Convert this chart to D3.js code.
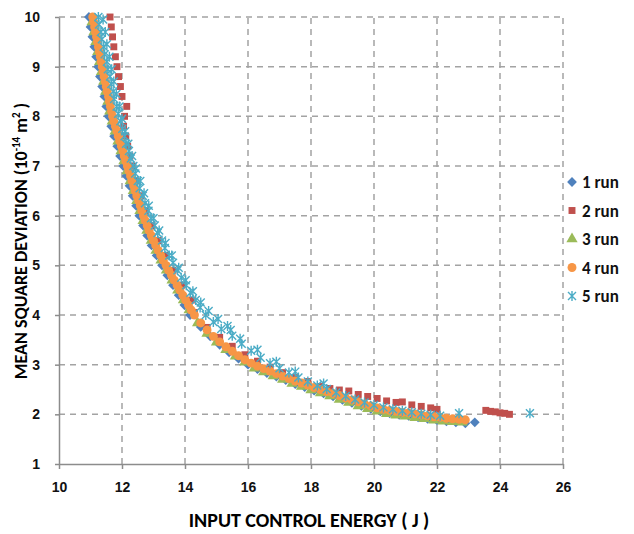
<!DOCTYPE html>
<html>
<head>
<meta charset="utf-8">
<script src="https://cdn.jsdelivr.net/npm/d3@7"></script>
<style>
  html, body { margin: 0; padding: 0; background: #fff; }
  svg { display: block; font-family: Carlito, Lato, "Open Sans", sans-serif; }
  .grid line { stroke: #a3a3a3; stroke-width: 1.5; stroke-dasharray: 6,5; }
  .axis path, .axis line { stroke: #8c8c8c; stroke-width: 1.5; }
  .axis text { font-size: 14px; font-weight: 700; fill: #111; }
</style>
</head>
<body>
<div id="chart"></div>
<script>
/* Mean square deviation vs input control energy, five runs. */

const xTicks = [10, 12, 14, 16, 18, 20, 22, 24, 26];
const yTicks = [1, 2, 3, 4, 5, 6, 7, 8, 9, 10];
const runLabels = ["1 run", "2 run", "3 run", "4 run", "5 run"];

// [energy J, MSD 1e-14 m^2]
const run1 = [
  [10.95, 10], [11.0, 9.8], [11.06, 9.6], [11.12, 9.4], [11.18, 9.2], [11.24, 9.0],
  [11.30, 8.8], [11.37, 8.6], [11.44, 8.4], [11.50, 8.2], [11.57, 8.0], [11.66, 7.8],
  [11.75, 7.6], [11.85, 7.4], [11.94, 7.2], [12.04, 7.0], [12.14, 6.8], [12.24, 6.6],
  [12.34, 6.4], [12.45, 6.2], [12.55, 6.0], [12.67, 5.8], [12.80, 5.6], [12.94, 5.4],
  [13.10, 5.2], [13.27, 5.0], [13.44, 4.8], [13.62, 4.6], [13.80, 4.4], [13.98, 4.2],
  [14.16, 4.0], [14.5, 3.76], [14.8, 3.57], [15.1, 3.40], [15.4, 3.25], [15.7, 3.12],
  [16.0, 3.0], [16.3, 2.91], [16.6, 2.83], [16.9, 2.76], [17.2, 2.69], [17.5, 2.61],
  [17.8, 2.55], [18.1, 2.48], [18.4, 2.42], [18.7, 2.36], [19.0, 2.29], [19.3, 2.23],
  [19.6, 2.17], [19.9, 2.11], [20.2, 2.06], [20.5, 2.02], [20.8, 1.99], [21.1, 1.97],
  [21.4, 1.94], [21.7, 1.91], [22.0, 1.88], [22.3, 1.86], [22.6, 1.84], [22.9, 1.82],
  [23.2, 1.84]
];
const run2 = [
  [11.62, 10], [11.66, 9.8], [11.70, 9.6], [11.74, 9.4], [11.79, 9.2], [11.84, 9.0],
  [11.89, 8.8], [11.95, 8.6], [12.00, 8.4], [12.15, 8.2], [12.08, 8.0], [12.05, 7.8],
  [12.12, 7.6], [12.18, 7.4], [12.25, 7.2], [12.32, 7.0], [12.45, 6.7], [12.60, 6.4],
  [12.76, 6.1], [12.95, 5.8], [13.15, 5.5], [13.38, 5.2], [13.62, 4.9], [13.90, 4.6],
  [14.20, 4.3], [14.30, 4.05], [14.7, 3.75], [15.1, 3.55], [15.5, 3.37], [15.9, 3.2],
  [16.3, 3.07], [16.7, 2.95], [17.1, 2.84], [17.5, 2.74], [17.9, 2.66], [18.3, 2.56],
  [18.6, 2.52], [18.9, 2.49], [19.2, 2.47], [19.5, 2.40], [19.8, 2.36], [20.1, 2.32],
  [20.4, 2.27], [20.7, 2.24], [20.9, 2.25], [21.2, 2.19], [21.5, 2.16], [21.8, 2.13],
  [22.0, 2.10], [23.55, 2.08], [23.7, 2.06], [23.85, 2.05], [24.0, 2.03], [24.15, 2.02],
  [24.3, 2.0]
];
const run3 = [
  [11.05, 9.9], [11.11, 9.7], [11.17, 9.5], [11.23, 9.3], [11.29, 9.1], [11.35, 8.9],
  [11.42, 8.7], [11.48, 8.5], [11.55, 8.3], [11.61, 8.1], [11.69, 7.9], [11.78, 7.7],
  [11.87, 7.5], [11.97, 7.3], [12.06, 7.1], [12.16, 6.9], [12.26, 6.7], [12.36, 6.5],
  [12.47, 6.3], [12.57, 6.1], [12.67, 5.9], [12.79, 5.7], [12.93, 5.5], [13.08, 5.3],
  [13.24, 5.1], [13.41, 4.9], [13.59, 4.7], [13.77, 4.5], [13.95, 4.3], [14.13, 4.1],
  [14.4, 3.84], [14.7, 3.63], [15.0, 3.45], [15.3, 3.30], [15.6, 3.17], [15.9, 3.05],
  [16.2, 2.93], [16.5, 2.85], [16.8, 2.77], [17.1, 2.70], [17.4, 2.62], [17.7, 2.56],
  [18.0, 2.49], [18.3, 2.43], [18.6, 2.37], [18.9, 2.30], [19.2, 2.24], [19.5, 2.17],
  [19.8, 2.11], [20.1, 2.06], [20.4, 2.01], [20.7, 1.98], [21.0, 1.96], [21.3, 1.93],
  [21.6, 1.91], [21.9, 1.88], [22.2, 1.86], [22.5, 1.85], [22.8, 1.84]
];
const run4 = [
  [11.07, 10], [11.10, 9.9], [11.13, 9.8], [11.16, 9.7], [11.19, 9.6], [11.22, 9.5],
  [11.25, 9.4], [11.28, 9.3], [11.31, 9.2], [11.34, 9.1], [11.37, 9.0], [11.40, 8.9],
  [11.43, 8.8], [11.47, 8.7], [11.50, 8.6], [11.53, 8.5], [11.57, 8.4], [11.60, 8.3],
  [11.63, 8.2], [11.67, 8.1], [11.70, 8.0], [11.74, 7.9], [11.79, 7.8], [11.84, 7.7],
  [11.88, 7.6], [11.93, 7.5], [11.98, 7.4], [12.03, 7.3], [12.07, 7.2], [12.12, 7.1],
  [12.17, 7.0], [12.22, 6.9], [12.27, 6.8], [12.32, 6.7], [12.37, 6.6], [12.42, 6.5],
  [12.47, 6.4], [12.53, 6.3], [12.58, 6.2], [12.63, 6.1], [12.68, 6.0], [12.74, 5.9],
  [12.80, 5.8], [12.86, 5.7], [12.93, 5.6], [13.00, 5.5], [13.07, 5.4], [13.15, 5.3],
  [13.23, 5.2], [13.31, 5.1], [13.40, 5.0], [13.48, 4.9], [13.57, 4.8], [13.66, 4.7],
  [13.75, 4.6], [13.84, 4.5], [13.93, 4.4], [14.02, 4.3], [14.11, 4.2], [14.20, 4.1],
  [14.30, 4.0], [14.5, 3.84], [14.7, 3.70], [14.9, 3.57], [15.1, 3.46], [15.3, 3.36],
  [15.5, 3.27], [15.7, 3.18], [15.9, 3.10], [16.1, 3.03], [16.3, 2.97], [16.5, 2.92],
  [16.7, 2.87], [16.9, 2.82], [17.1, 2.77], [17.3, 2.72], [17.5, 2.67], [17.7, 2.63],
  [17.9, 2.59], [18.1, 2.54], [18.3, 2.50], [18.5, 2.46], [18.7, 2.42], [18.9, 2.38],
  [19.1, 2.33], [19.3, 2.29], [19.5, 2.25], [19.7, 2.21], [19.9, 2.17], [20.1, 2.13],
  [20.3, 2.10], [20.5, 2.08], [20.7, 2.06], [20.9, 2.04], [21.1, 2.03], [21.3, 2.01],
  [21.5, 1.99], [21.7, 1.97], [21.9, 1.95], [22.1, 1.94], [22.3, 1.92], [22.5, 1.91],
  [22.7, 1.90], [22.9, 1.89]
];
const run5 = [
  [11.25, 10], [11.27, 9.85], [11.33, 9.7], [11.36, 9.55], [11.42, 9.4], [11.45, 9.25],
  [11.52, 9.1], [11.55, 8.95], [11.62, 8.8], [11.66, 8.65], [11.72, 8.5], [11.75, 8.35],
  [11.83, 8.2], [11.88, 8.05], [11.95, 7.9], [12.01, 7.75], [12.08, 7.6], [12.13, 7.45],
  [12.22, 7.3], [12.28, 7.15], [12.36, 7.0], [12.42, 6.85], [12.50, 6.7], [12.56, 6.55],
  [12.66, 6.4], [12.73, 6.25], [12.84, 6.1], [12.92, 5.95], [13.04, 5.8], [13.13, 5.65],
  [13.27, 5.5], [13.36, 5.35], [13.50, 5.2], [13.62, 5.05], [13.76, 4.9], [13.88, 4.75],
  [14.04, 4.6], [14.17, 4.45], [14.34, 4.3], [14.48, 4.15], [14.66, 4.0], [14.9, 3.86],
  [15.15, 3.72], [15.35, 3.78], [15.5, 3.58], [15.8, 3.42], [16.1, 3.28], [16.4, 3.14],
  [16.7, 3.03], [17.0, 2.93], [17.3, 2.84], [17.6, 2.74], [17.9, 2.66], [18.2, 2.58],
  [18.5, 2.51], [18.8, 2.44], [19.1, 2.37], [19.4, 2.30], [19.7, 2.24], [20.0, 2.19],
  [20.3, 2.14], [20.6, 2.10], [20.9, 2.07], [21.2, 2.04], [21.5, 2.01], [21.8, 1.99],
  [22.1, 1.97], [22.7, 2.02], [24.95, 2.02],
  // outer scatter on the right side of the band
  [11.40, 9.95], [11.47, 9.7], [11.52, 9.45], [11.60, 9.2], [11.67, 8.95], [11.74, 8.7],
  [11.82, 8.45], [11.92, 8.2], [12.0, 7.95], [12.1, 7.7], [12.2, 7.45], [12.32, 7.2],
  [12.44, 6.95], [12.58, 6.7], [12.70, 6.45], [12.85, 6.2], [13.0, 5.95], [13.18, 5.7],
  [13.38, 5.45], [13.58, 5.2], [13.8, 4.95], [14.02, 4.7], [14.25, 4.48], [14.5, 4.25],
  [14.75, 4.08], [15.05, 3.92], [15.45, 3.7], [15.75, 3.52], [16.3, 3.3], [16.9, 3.06],
  [17.5, 2.86], [18.4, 2.62]
];

const W = 634, H = 534;
const margin = { top: 17, right: 71, bottom: 70, left: 59 };

const svg = d3.select("#chart").append("svg")
  .attr("width", W).attr("height", H).attr("viewBox", `0 0 ${W} ${H}`);

const x = d3.scaleLinear().domain([10, 26]).range([margin.left, W - margin.right]);
const y = d3.scaleLinear().domain([1, 10]).range([H - margin.bottom, margin.top]);

// dashed grid
svg.append("g").attr("class", "grid")
  .selectAll("line").data(xTicks.slice(1)).join("line")
  .attr("x1", d => x(d)).attr("x2", d => x(d))
  .attr("y1", y(1)).attr("y2", y(10));
svg.append("g").attr("class", "grid")
  .selectAll("line").data(yTicks.slice(1)).join("line")
  .attr("x1", x(10)).attr("x2", x(26))
  .attr("y1", d => y(d)).attr("y2", d => y(d));

// axes
svg.append("g").attr("class", "axis")
  .attr("transform", `translate(0,${y(1)})`)
  .call(d3.axisBottom(x).tickValues(xTicks).tickSize(5).tickSizeOuter(0).tickPadding(13));
svg.append("g").attr("class", "axis")
  .attr("transform", `translate(${x(10)},0)`)
  .call(d3.axisLeft(y).tickValues(yTicks).tickSize(4).tickSizeOuter(0).tickPadding(15));

// markers: diamond, square, triangle, circle, asterisk
const COLORS = ["#4f81bd", "#c0504d", "#9bbb59", "#f79646", "#4bacc6"];
const star = r => `M${-r},${-r}L${r},${r}M${-r},${r}L${r},${-r}M0,${-r - 1}L0,${r + 1}`;

function drawMarker(g, i, cx, cy) {
  const p = g.append("path").attr("transform", `translate(${cx},${cy})`);
  if (i === 0) {
    p.attr("d", d3.symbol(d3.symbolSquare, 48)()).attr("fill", COLORS[i])
      .attr("transform", `translate(${cx},${cy}) rotate(45)`);
  } else if (i === 1) {
    p.attr("d", d3.symbol(d3.symbolSquare, 48)()).attr("fill", COLORS[i]);
  } else if (i === 2) {
    p.attr("d", d3.symbol(d3.symbolTriangle, 55)()).attr("fill", COLORS[i]);
  } else if (i === 3) {
    p.attr("d", d3.symbol(d3.symbolCircle, 62)()).attr("fill", COLORS[i]);
  } else {
    p.attr("d", star(4)).attr("fill", "none")
      .attr("stroke", COLORS[i]).attr("stroke-width", 1.4);
  }
}

const runs = [run1, run2, run3, run4, run5];
runs.forEach((pts, i) => {
  const g = svg.append("g");
  pts.forEach(p => drawMarker(g, i, x(p[0]), y(p[1])));
});

// legend
const legend = svg.append("g");
runLabels.forEach((lab, i) => {
  const ly = 182 + i * 28.5;
  drawMarker(legend, i, 572, ly);
  legend.append("text").attr("x", 582).attr("y", ly + 6)
    .attr("font-size", 17).attr("font-weight", 700).attr("fill", "#111").text(lab);
});

// axis titles
svg.append("text")
  .attr("x", 309).attr("y", 527).attr("text-anchor", "middle")
  .attr("font-size", 20).attr("font-weight", 700).attr("fill", "#000")
  .text("INPUT CONTROL ENERGY ( J )");

const yt = svg.append("text")
  .attr("transform", `translate(27,241) rotate(-90)`)
  .attr("text-anchor", "middle")
  .attr("font-size", 18).attr("font-weight", 700).attr("fill", "#000");
yt.append("tspan").text("MEAN SQUARE DEVIATION (10");
yt.append("tspan").attr("dy", -7).attr("font-size", 11).text("-14");
yt.append("tspan").attr("dy", 7).text(" m");
yt.append("tspan").attr("dy", -7).attr("font-size", 11).text("2");
yt.append("tspan").attr("dy", 7).text(" )");
</script>
</body>
</html>
